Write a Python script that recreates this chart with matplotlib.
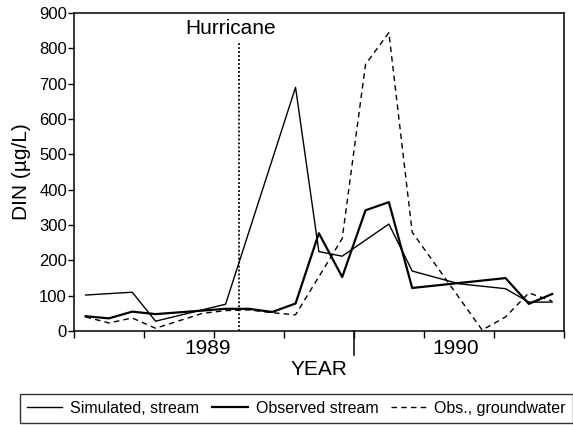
import matplotlib
matplotlib.use("Agg")
import matplotlib.pyplot as plt
import matplotlib.transforms as mtransforms

plt.rcParams['font.family'] = ['Liberation Sans', 'DejaVu Sans']

# months counted from January 1989 (0 = Jan 1989)
sim_months = [0, 2, 3, 6, 9, 10, 11, 13, 14, 16, 18, 19, 20]
sim_din = [102, 110, 28, 76, 690, 225, 212, 303, 170, 134, 120, 82, 82]

obs_months = [0, 1, 2, 3, 4, 5, 6, 7, 8, 9, 10, 11, 12, 13, 14, 16, 18, 19, 20]
obs_din = [42, 36, 55, 48, 53, 58, 63, 63, 54, 78, 277, 153, 342, 365, 122, 136, 150, 77, 105]

gw_months = [0, 1, 2, 3, 5, 6, 7, 8, 9, 11, 12, 13, 14, 17, 18, 19, 20]
gw_din = [40, 23, 37, 8, 50, 58, 60, 52, 46, 262, 755, 845, 280, 3, 40, 108, 85]

hurricane_x = 1989.59
year_labels = ['1989', '1990']
year_label_x = [1989.478, 1990.365]


def to_year(months):
    return [1989 + (m + 0.5) / 12 for m in months]


fig = plt.figure(figsize=(5.73, 4.25), dpi=100)
ax = fig.add_axes([0.129, 0.221, 0.855, 0.748])

ax.plot(to_year(sim_months), sim_din, color='black', lw=1.0, label='Simulated, stream')
ax.plot(to_year(obs_months), obs_din, color='black', lw=1.6, label='Observed stream')
ax.plot(to_year(gw_months), gw_din, color='black', lw=1.0, dashes=(4, 3),
        label='Obs., groundwater')

# hurricane marker
ax.plot([hurricane_x, hurricane_x], [0, 815], color='black', lw=1.3, linestyle=(0, (1, 1.2)))
ax.text(hurricane_x - 0.03, 858, 'Hurricane', ha='center', va='center', fontsize=15)

ax.set_xlim(1989.0, 1990.75)
ax.set_ylim(0, 900)
ax.set_yticks(range(0, 901, 100))
ax.set_xticks([1989 + 0.25 * k for k in range(8)])
ax.set_xticklabels([])
ax.tick_params(axis='y', direction='out', length=4, width=1, labelsize=12, pad=1)
ax.tick_params(axis='x', direction='out', length=5, width=1)

for sp in ax.spines.values():
    sp.set_linewidth(1.1)

# year labels and the year boundary tick
trans = mtransforms.blended_transform_factory(ax.transData, ax.transAxes)
for lab, xv in zip(year_labels, year_label_x):
    ax.text(xv, -0.025, lab, transform=trans, ha='center', va='top', fontsize=15)
ax.plot([1990.0, 1990.0], [0, -0.075], transform=trans, color='black', lw=1.1, clip_on=False)

ax.set_xlabel('YEAR', fontsize=15, labelpad=12)
ax.set_ylabel('DIN (\u00b5g/L)', fontsize=15, labelpad=6)

fig.legend(loc='lower left', bbox_to_anchor=(0.035, 0.005, 0.965, 0.075), mode='expand',
           ncol=3, fontsize=11.5, frameon=True, fancybox=False, edgecolor='black',
           handlelength=2.2, handletextpad=0.5, columnspacing=0.8, borderpad=0.45,
           borderaxespad=0.0)

fig.savefig('out.png', dpi=100)
